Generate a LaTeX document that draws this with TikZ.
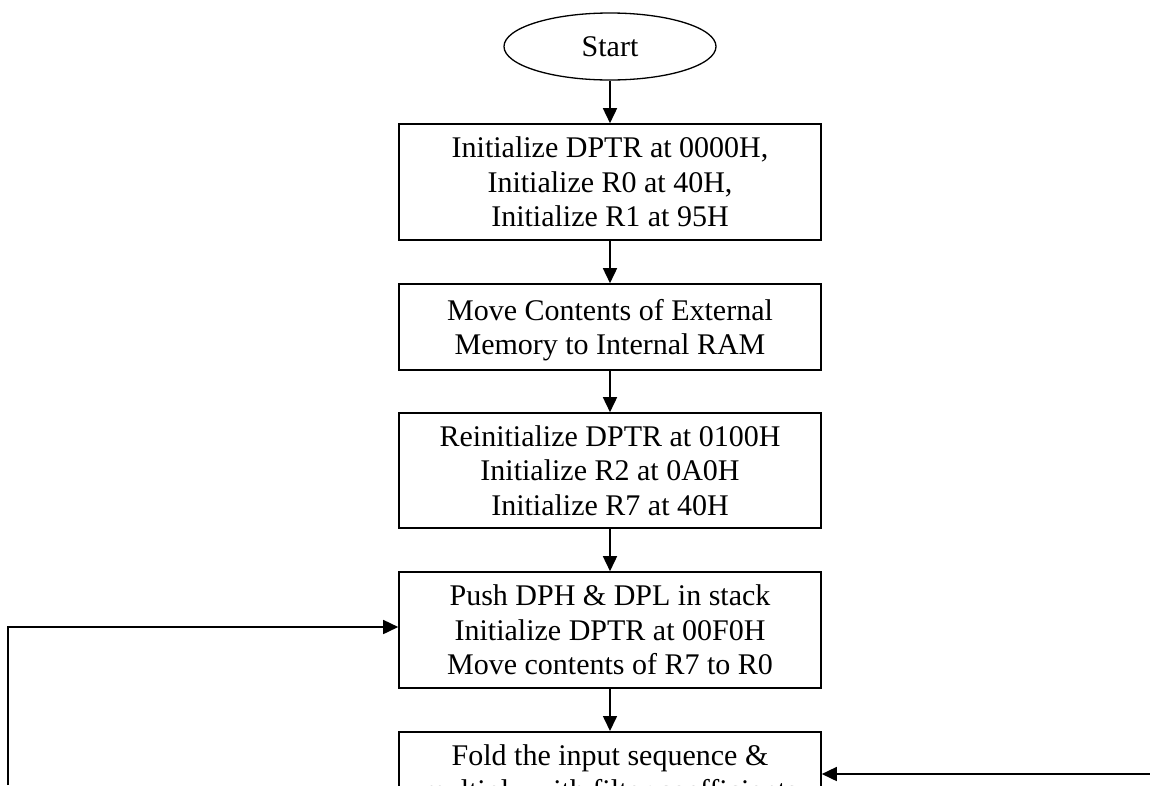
\documentclass[tikz,border=0pt]{standalone}
\usepackage{fontspec}
\setmainfont{Liberation Serif}
\usetikzlibrary{arrows.meta,shapes.geometric}

\begin{document}
\begin{tikzpicture}[x=1pt,y=-1pt,
  every node/.style={font=\fontsize{30}{34.5}\selectfont},
  procbox/.style={draw,line width=1.6pt,rectangle,minimum width=422pt,
    inner sep=0pt,align=center,text depth=0pt},
  termbox/.style={draw,line width=1.3pt,ellipse,minimum width=212pt,
    minimum height=67pt,inner sep=0pt},
  flow/.style={line width=1.6pt,-{Triangle[length=15pt,width=14pt]}}]

\useasboundingbox (0,0) rectangle (1150,785);

% terminal and process steps
\node[termbox] (start) at (610,46.5) {Start};
\node[procbox,minimum height=116pt] (init) at (610,182)
  {Initialize DPTR at 0000H,\\Initialize R0 at 40H,\\Initialize R1 at 95H};
\node[procbox,minimum height=86pt] (move) at (610,327)
  {Move Contents of External\\Memory to Internal RAM};
\node[procbox,minimum height=115pt] (reinit) at (610,470.5)
  {Reinitialize DPTR at 0100H\\Initialize R2 at 0A0H\\Initialize R7 at 40H};
\node[procbox,minimum height=116pt] (push) at (610,630)
  {Push DPH \& DPL in stack\\Initialize DPTR at 00F0H\\Move contents of R7 to R0};
\node[procbox,minimum height=116pt,anchor=north,text depth=34.5pt] (fold) at (610,731)
  {Fold the input sequence \&\\multiply with filter coefficients};

% main flow
\draw[flow] (start) -- (init);
\draw[flow] (init) -- (move);
\draw[flow] (move) -- (reinit);
\draw[flow] (reinit) -- (push);
\draw[flow] (push) -- (fold);

% loop-back connectors
\coordinate (loopL) at (8,785);
\coordinate (loopR) at (1150,774);
\draw[flow] (loopL) |- ([yshift=3pt]push.west);
\draw[flow] (loopR) -- (loopR -| fold.east);
\end{tikzpicture}
\end{document}
